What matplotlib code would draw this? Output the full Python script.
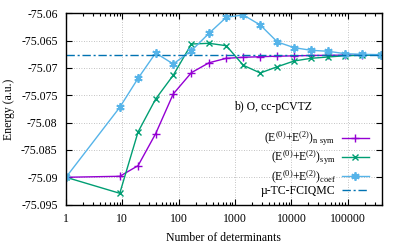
import matplotlib
matplotlib.use('Agg')
import matplotlib.pyplot as plt
from matplotlib.ticker import LogLocator, FixedLocator, NullFormatter, FuncFormatter

# number of determinants in the selected wave function
n_det = [1, 9, 19, 39, 80, 168, 345, 700, 1400, 2800, 5650, 11200,
         22500, 45000, 90000, 180000, 390000]

e_nsym = [-75.09, -75.08982, -75.08788, -75.08202, -75.07476, -75.07086,
          -75.06905, -75.06823, -75.06805, -75.06794, -75.06785, -75.06778,
          -75.06772, -75.06768, -75.06766, -75.06765, -75.06764]
e_sym = [-75.09, -75.09293, -75.08171, -75.07568, -75.07134, -75.06562,
         -75.06549, -75.06593, -75.06951, -75.07092, -75.06977, -75.06872,
         -75.06823, -75.06799, -75.06776, -75.06768, -75.06763]
e_coef = [-75.09, -75.0772, -75.0719, -75.06726, -75.06927, -75.06684,
          -75.06366, -75.06073, -75.0603, -75.06214, -75.06525, -75.06629,
          -75.06677, -75.06695, -75.06739, -75.0675, -75.06757]
e_fciqmc = -75.06768

y_ticks = [-75.06, -75.065, -75.07, -75.075, -75.08, -75.085, -75.09, -75.095]
x_ticks = [1, 10, 100, 1000, 10000, 100000]

plt.rcParams['font.family'] = 'Liberation Serif'
plt.rcParams['mathtext.default'] = 'regular'
plt.rcParams['axes.unicode_minus'] = False

fig = plt.figure(figsize=(3.99, 2.45), dpi=100)
ax = fig.add_axes([0.1654, 0.1649, 0.7912, 0.7808])

ax.plot(n_det, e_nsym, color='#9400d3', marker='+', ms=6, mew=1.0, lw=1.0,
        label='(E$^{(0)}$+E$^{(2)}$)$_{n\\ sym}$')
ax.plot(n_det, e_sym, color='#009e73', marker='x', ms=5, mew=1.0, lw=1.0,
        label='(E$^{(0)}$+E$^{(2)}$)$_{sym}$')
ax.plot(n_det, e_coef, color='#56b4e9', marker=(6, 2, 0), ms=6, mew=1.3, lw=1.0,
        label='(E$^{(0)}$+E$^{(2)}$)$_{coef}$')
ax.axhline(e_fciqmc, color='#0072b2', lw=1.0, dashes=(6, 2, 1.5, 2),
           label='µ-TC-FCIQMC')

ax.set_xscale('log')
ax.set_xlim(1, 400000)
ax.set_ylim(-75.095, -75.06)
ax.xaxis.set_major_locator(FixedLocator(x_ticks))
ax.xaxis.set_minor_locator(LogLocator(base=10, subs=range(2, 10), numticks=20))
ax.xaxis.set_minor_formatter(NullFormatter())
ax.xaxis.set_major_formatter(FuncFormatter(lambda v, p: '%d' % v))
ax.yaxis.set_major_locator(FixedLocator(y_ticks))
ax.yaxis.set_major_formatter(FuncFormatter(lambda v, p: '%g' % round(v, 4)))

ax.tick_params(which='both', direction='in', top=True, right=True,
               labelsize=8.5, width=0.8)
ax.tick_params(which='major', length=4, pad=6)
ax.tick_params(which='minor', length=2)
ax.grid(True, which='major', color='#b0b0b0', ls=(0, (1, 2)), lw=0.6)
for s in ax.spines.values():
    s.set_linewidth(1.0)

ax.set_xlabel('Number of determinants', fontsize=8.5, labelpad=5)
ax.set_ylabel('Energy (a.u.)', fontsize=8.5)
ax.text(0.532, 0.51, 'b) O, cc-pCVTZ', transform=ax.transAxes,
        fontsize=8.5, va='center', ha='left')

ax.legend(loc='lower right', bbox_to_anchor=(0.985, -0.005), frameon=False,
          markerfirst=False, fontsize=8.5, handlelength=2.3,
          labelspacing=0.05, borderaxespad=0.3, handletextpad=0.5)

fig.savefig('out.png', dpi=100)
